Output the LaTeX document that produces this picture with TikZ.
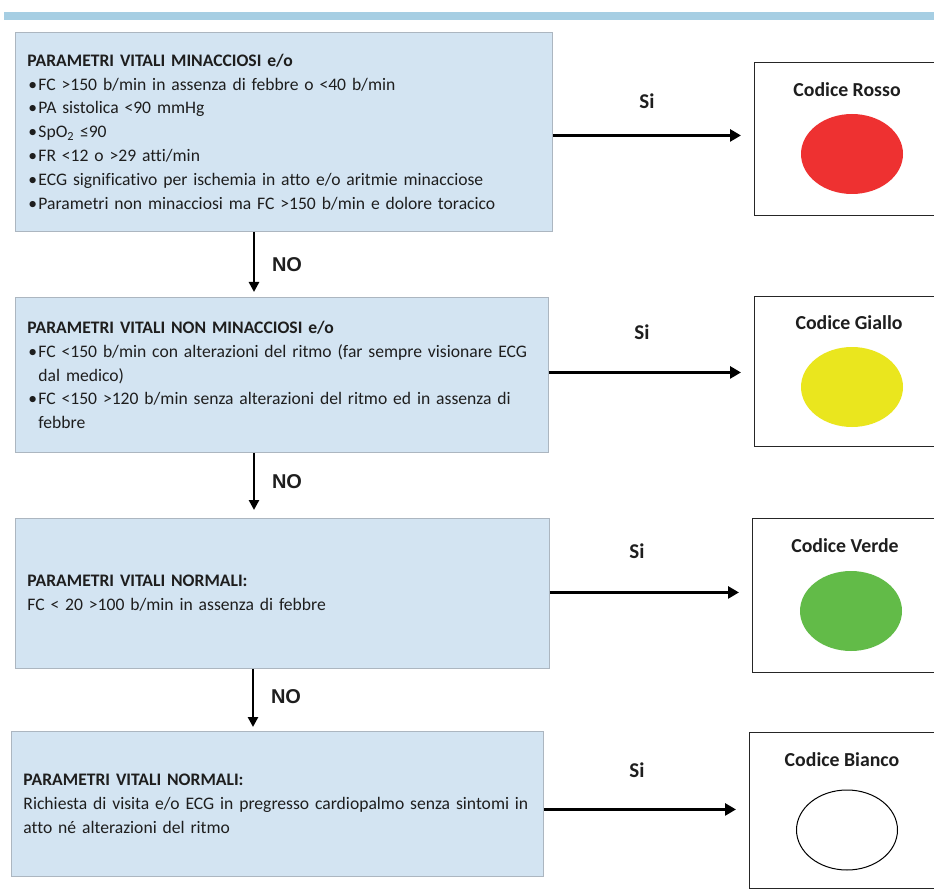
\documentclass[tikz,border=0pt]{standalone}
\usepackage{fontspec}
\setmainfont{Carlito}[Ligatures=NoCommon]
\newfontfamily\labelfont{Liberation Sans}
\usetikzlibrary{arrows.meta,shapes.geometric}

\definecolor{barblue}{RGB}{166,206,227}
\definecolor{boxfill}{RGB}{211,228,242}
\definecolor{boxline}{RGB}{172,182,192}
\definecolor{codered}{RGB}{238,49,49}
\definecolor{codeyellow}{RGB}{234,230,30}
\definecolor{codegreen}{RGB}{98,187,72}
\definecolor{txt}{RGB}{30,30,30}

% bullet with hanging indent
\newcommand\bul{\makebox[11pt][l]{\hspace{1pt}\textbullet}}
\newcommand\hang{\hspace*{11pt}}

\begin{document}
\begin{tikzpicture}[x=1pt,y=-1pt,
  critbox/.style={draw=boxline, line width=0.9pt, fill=boxfill, anchor=north west,
    align=left, inner xsep=12pt, inner ysep=0pt, text=txt,
    font=\fontsize{17.6}{23.8}\selectfont},
  codebox/.style={draw=black!85, line width=1.1pt, fill=white, anchor=north west,
    inner sep=0pt},
  codetitle/.style={font=\bfseries\fontsize{19.8}{22}\selectfont, text=txt, inner sep=0pt},
  light/.style={ellipse, inner sep=0pt, minimum width=102pt, minimum height=80pt},
  yes/.style={font=\bfseries\fontsize{21}{22}\selectfont, text=txt, inner sep=0pt},
  no/.style={font=\labelfont\bfseries\fontsize{20}{22}\selectfont, text=txt, inner sep=0pt},
  harr/.style={line width=3.3pt, -{Triangle[length=11pt,width=12pt]}, shorten >=13pt},
  varr/.style={line width=2.6pt, -{Triangle[length=10pt,width=10pt]}},
]
\useasboundingbox (0,0) rectangle (934,893);
\clip (0,0) rectangle (934,893);

% header rule
\fill[barblue] (4,12) rectangle (934,20);

% criteria boxes
\node[critbox, text width=513pt, minimum height=199pt] (b1) at (15,32) {%
\textbf{PARAMETRI VITALI MINACCIOSI e/o}\\
\bul FC >150 b/min in assenza di febbre o <40 b/min\\
\bul PA sistolica <90 mmHg\\
\bul SpO\textsubscript{2} ≤90\\
\bul FR <12 o >29 atti/min\\
\bul\mbox{ECG significativo per ischemia in atto e/o aritmie minacciose}\\
\bul\mbox{Parametri non minacciosi ma FC >150 b/min e dolore toracico}};

\node[critbox, text width=509pt, minimum height=155pt] (b2) at (15,297) {%
\textbf{PARAMETRI VITALI NON MINACCIOSI e/o}\\
\bul\mbox{FC <150 b/min con alterazioni del ritmo (far sempre visionare ECG}\\
\hang dal medico)\\
\bul\mbox{FC <150 >120 b/min senza alterazioni del ritmo ed in assenza di}\\
\hang febbre};

\node[critbox, text width=510pt, minimum height=150pt] (b3) at (15,518) {%
\textbf{PARAMETRI VITALI NORMALI:}\\
FC < 20 >100 b/min in assenza di febbre};

\node[critbox, text width=508pt, minimum height=145pt] (b4) at (11,731) {%
\textbf{PARAMETRI VITALI NORMALI:}\\
\mbox{Richiesta di visita e/o ECG in pregresso cardiopalmo senza sintomi in}\\
atto né alterazioni del ritmo};

% triage code boxes
\node[codebox, minimum width=186pt, minimum height=153pt] (c1) at (754,62) {};
\node[codebox, minimum width=186pt, minimum height=150pt] (c2) at (754,296) {};
\node[codebox, minimum width=188pt, minimum height=154pt] (c3) at (752,518) {};
\node[codebox, minimum width=191pt, minimum height=156pt] (c4) at (749,732) {};

\node[codetitle] (t1) at (847,90) {Codice Rosso};
\node[codetitle] (t2) at (849,323) {Codice Giallo};
\node[codetitle] (t3) at (845,546) {Codice Verde};
\node[codetitle] (t4) at (842,760) {Codice Bianco};

\node[light, fill=codered] (l1) at (852,154) {};
\node[light, fill=codeyellow] (l2) at (852,387) {};
\node[light, fill=codegreen] (l3) at (851,611) {};
\node[light, draw=black, line width=1pt, fill=white, minimum width=101pt, minimum height=80pt] (l4) at (847,830) {};

% "Si" branches
\draw[harr] ([yshift=-3.5pt]b1.east) coordinate (s1) -- (s1 -| c1.west);
\draw[harr] ([yshift=2.5pt]b2.east) coordinate (s2) -- (s2 -| c2.west);
\draw[harr] ([yshift=1pt]b3.east) coordinate (s3) -- (s3 -| c3.west);
\draw[harr] ([yshift=-5.5pt]b4.east) coordinate (s4) -- (s4 -| c4.west);

\node[yes] (y1) at (647,101) {Si};
\node[yes] (y2) at (642,332) {Si};
\node[yes] (y3) at (637,551) {Si};
\node[yes] (y4) at (637,770) {Si};

% "NO" branches
\draw[varr] (b1.south -| 254,0) -- ([yshift=5pt]b2.north -| 254,0);
\draw[varr] (b2.south -| 254,0) -- ([yshift=8pt]b3.north -| 254,0);
\draw[varr] (b3.south -| 253,0) -- ([yshift=4pt]b4.north -| 253,0);

\node[no] (n1) at (287,265) {NO};
\node[no] (n2) at (287,482) {NO};
\node[no] (n3) at (286,697) {NO};
\end{tikzpicture}
\end{document}
